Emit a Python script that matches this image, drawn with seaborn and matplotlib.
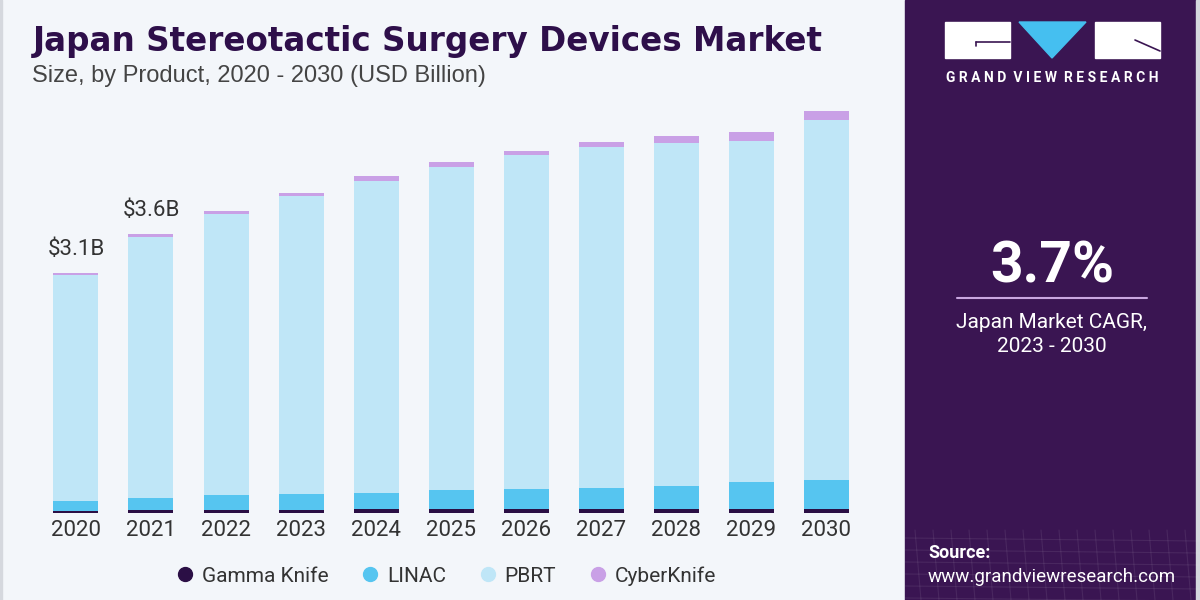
import numpy as np
import pandas as pd
import seaborn as sns
import matplotlib.pyplot as plt
from matplotlib.patches import Rectangle, Polygon

# chart data (USD Billion)
years = ["2020", "2021", "2022", "2023", "2024", "2025", "2026", "2027", "2028", "2029", "2030"]
gamma_knife = [0.03, 0.04, 0.04, 0.04, 0.05, 0.05, 0.05, 0.05, 0.05, 0.05, 0.05]
linac = [0.13, 0.16, 0.19, 0.21, 0.21, 0.25, 0.26, 0.27, 0.30, 0.35, 0.37]
pbrt = [2.91, 3.36, 3.63, 3.84, 4.03, 4.17, 4.31, 4.41, 4.43, 4.41, 4.66]
cyberknife = [0.03, 0.04, 0.04, 0.04, 0.06, 0.06, 0.06, 0.06, 0.09, 0.11, 0.11]
segments = ["Gamma Knife", "LINAC", "PBRT", "CyberKnife"]
colors = ["#2b0f45", "#56c5f0", "#bfe6f7", "#c9a0e6"]
labels = {"2020": "$3.1B", "2021": "$3.6B"}

df = pd.DataFrame({"year": years, "Gamma Knife": gamma_knife, "LINAC": linac,
                   "PBRT": pbrt, "CyberKnife": cyberknife})
# cumulative sums for stacking
cum = df[segments].cumsum(axis=1)
cum["year"] = df["year"]

sns.set_style("white")
plt.rcParams["font.family"] = ["Roboto", "DejaVu Sans"]

fig = plt.figure(figsize=(12, 6), dpi=100)
fig.patch.set_facecolor("#f3f6fa")

ax = fig.add_axes([0.032, 0.145, 0.688, 0.7095])
ax.set_facecolor("#f3f6fa")

# draw tallest first so smaller stacks sit on top
for seg, col in reversed(list(zip(segments, colors))):
    sns.barplot(data=cum, x="year", y=seg, color=col, width=0.6,
                saturation=1, ax=ax, label=seg, linewidth=0, edgecolor="none")

ax.set_xlim(-0.5, len(years) - 0.5)
ax.set_ylim(0, 5.5)
ax.set_xlabel("")
ax.set_ylabel("")
ax.set_yticks([])
ax.tick_params(axis="x", length=0, labelsize=16, pad=5, colors="#333333")
for s in ax.spines.values():
    s.set_visible(False)
if ax.get_legend() is not None:
    ax.get_legend().remove()

totals = cum["CyberKnife"].values
for i, y in enumerate(years):
    if y in labels:
        ax.text(i, totals[i] + 0.17, labels[y], ha="center", va="bottom",
                fontsize=16, color="#333333")

# legend with round markers
handles = [plt.Line2D([], [], marker="o", linestyle="", markersize=10,
                      markerfacecolor=c, markeredgecolor=c) for c in colors]
fig.legend(handles, segments, loc="center", bbox_to_anchor=(0.372, 0.04),
           ncol=4, frameon=False, fontsize=15, handlelength=0.8, handletextpad=0.4,
           columnspacing=1.6, labelcolor="#333333")

# titles
fig.text(0.027, 0.931, "Japan Stereotactic Surgery Devices Market", fontsize=23.5,
         fontweight="bold", color="#2e0f4a", va="center", family="DejaVu Sans")
fig.text(0.027, 0.873, "Size, by Product, 2020 - 2030 (USD Billion)", fontsize=17,
         color="#444444", va="center", family="Liberation Sans")

# right side panel in pixel coords
deco = fig.add_axes([0, 0, 1, 1], zorder=2)
deco.set_xlim(0, 1200)
deco.set_ylim(600, 0)
deco.axis("off")
deco.add_patch(Rectangle((0, 0), 2, 600, color="#d5d8de"))
deco.add_patch(Rectangle((905, 0), 295, 600, color="#3a1552"))
grad = np.linspace(0, 1, 100).reshape(-1, 1)
deco.imshow(grad, extent=(905, 1200, 600, 530), cmap=sns.blend_palette(
    ["#4d4a9a", "#4a86cc", "#3fa7e4"], as_cmap=True), aspect="auto", origin="upper")
deco.set_xlim(0, 1200)
deco.set_ylim(600, 0)
for gx in range(915, 1200, 18):
    deco.plot([gx, gx + 6], [530, 600], color="white", alpha=0.08, lw=0.8)
for gy in range(538, 600, 12):
    deco.plot([905, 1200], [gy, gy + 3], color="white", alpha=0.08, lw=0.8)
deco.add_patch(Rectangle((1196, 0), 4, 600, color="#d5d8de"))

# logo
deco.add_patch(Rectangle((945, 22), 65, 36, color="white"))
deco.add_patch(Rectangle((1095, 22), 65, 36, color="white"))
deco.add_patch(Polygon([(1019, 22), (1086, 22), (1052, 58)], color="#45bff0"))
deco.plot([976, 1010], [42, 42], color="#3a1552", lw=1.2)
deco.plot([976, 976], [42, 46], color="#3a1552", lw=1.2)
deco.plot([1135, 1160], [40, 51], color="#3a1552", lw=1.2)
deco.text(1052, 78, "G R A N D   V I E W   R E S E A R C H".replace("   ", "  "),
          fontsize=10, fontweight="bold", color="white", ha="center", va="center")

deco.text(1052, 267, "3.7%", fontsize=41, fontweight="bold", color="white",
          ha="center", va="center")
deco.plot([957, 1147], [298, 298], color="#c9a6e0", lw=1.5)
deco.text(1052, 322, "Japan Market CAGR,", fontsize=15, color="white",
          ha="center", va="center")
deco.text(1052, 347, "2023 - 2030", fontsize=15, color="white",
          ha="center", va="center")
deco.text(928, 553, "Source:", fontsize=13, fontweight="bold", color="white",
          va="center")
deco.text(928, 577, "www.grandviewresearch.com", fontsize=13.5, color="white",
          va="center")

fig.savefig("out.png", dpi=100, facecolor=fig.get_facecolor())
